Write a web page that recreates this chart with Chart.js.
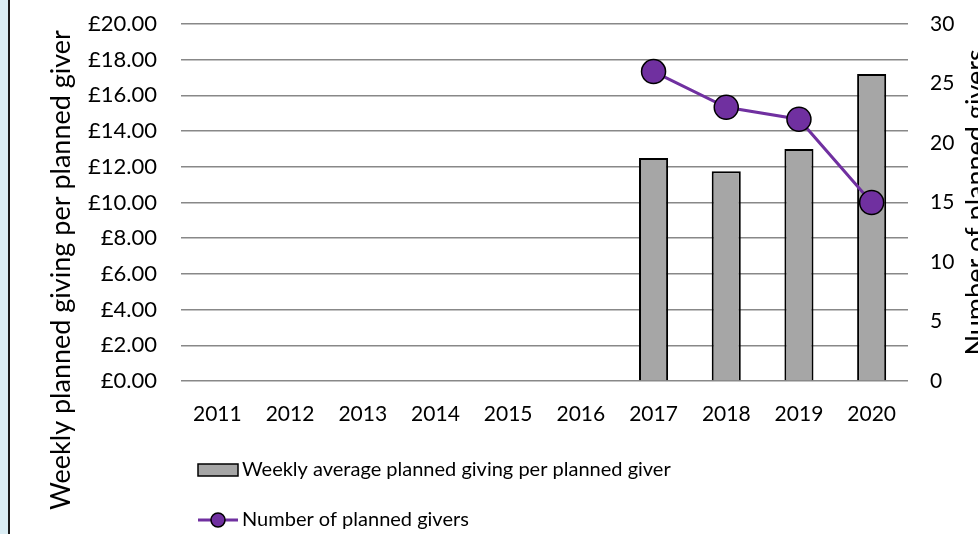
<!DOCTYPE html>
<html lang="en">
<head>
    <meta charset="UTF-8">
    <title>Planned giving</title>
    <script src="https://cdn.jsdelivr.net/npm/chart.js"></script>
    <style>
        html, body {
            margin: 0;
            padding: 0;
            overflow: hidden;
            background: #daedf4;
        }
        #wrap {
            position: absolute;
            left: 8px;
            top: 0;
            width: 970px;
            height: 534px;
            background: #fff;
            border-left: 2px solid #1a1a1a;
        }
    </style>
</head>
<body>
    <div id="wrap"><canvas id="chart" width="968" height="534"></canvas></div>

    <script>
        const years = ['2011', '2012', '2013', '2014', '2015', '2016', '2017', '2018', '2019', '2020'];
        const weeklyGiving = [null, null, null, null, null, null, 12.5, 11.75, 13.0, 17.2];
        const givers = [null, null, null, null, null, null, 26, 23, 22, 15];
        const leftTicks = [0, 2, 4, 6, 8, 10, 12, 14, 16, 18, 20];
        const rightTicks = [0, 5, 10, 15, 20, 25, 30];

        const FONT = 'Lato';
        const purple = '#7030a0';
        const barGrey = '#a6a6a6';

        // axis titles + legend drawn by hand (right title reads bottom-to-top)
        const extras = {
            id: 'extras',
            afterDraw(chart) {
                const ctx = chart.ctx;
                const area = chart.chartArea;
                ctx.save();
                ctx.fillStyle = '#000';
                ctx.font = '27px ' + FONT;
                ctx.textAlign = 'center';
                ctx.textBaseline = 'middle';

                ctx.save();
                ctx.translate(51, 270);
                ctx.rotate(-Math.PI / 2);
                ctx.fillText('Weekly planned giving per planned giver', 0, 0);
                ctx.restore();

                ctx.save();
                ctx.translate(chart.width + 7, (area.top + area.bottom) / 2);
                ctx.rotate(-Math.PI / 2);
                ctx.textBaseline = 'alphabetic';
                ctx.fillText('Number of planned givers', 0, 0);
                ctx.restore();

                // legend
                const ds = chart.data.datasets;
                const x0 = 188;
                ctx.font = '20px ' + FONT;
                ctx.textAlign = 'left';
                ctx.textBaseline = 'middle';

                let y = 470;
                ctx.fillStyle = ds[1].backgroundColor;
                ctx.strokeStyle = ds[1].borderColor;
                ctx.lineWidth = 1.5;
                ctx.fillRect(x0, y - 6, 40, 12);
                ctx.strokeRect(x0, y - 6, 40, 12);
                ctx.fillStyle = '#000';
                ctx.fillText(ds[1].label, x0 + 44, y);

                y = 520;
                ctx.strokeStyle = ds[0].borderColor;
                ctx.lineWidth = 3;
                ctx.beginPath();
                ctx.moveTo(x0, y);
                ctx.lineTo(x0 + 40, y);
                ctx.stroke();
                ctx.beginPath();
                ctx.arc(x0 + 20, y, 7, 0, Math.PI * 2);
                ctx.fillStyle = ds[0].pointBackgroundColor;
                ctx.fill();
                ctx.lineWidth = 1.5;
                ctx.strokeStyle = '#000';
                ctx.stroke();
                ctx.fillStyle = '#000';
                ctx.fillText(ds[0].label, x0 + 44, y);
                ctx.restore();
            }
        };

        new Chart(document.getElementById('chart'), {
            data: {
                labels: years,
                datasets: [
                    {
                        type: 'line',
                        label: 'Number of planned givers',
                        data: givers,
                        yAxisID: 'y1',
                        borderColor: purple,
                        borderWidth: 3,
                        pointRadius: 12,
                        pointBackgroundColor: purple,
                        pointBorderColor: '#000',
                        pointBorderWidth: 1.5,
                        order: 0
                    },
                    {
                        type: 'bar',
                        label: 'Weekly average planned giving per planned giver',
                        data: weeklyGiving,
                        yAxisID: 'y',
                        backgroundColor: barGrey,
                        borderColor: '#000',
                        borderWidth: 2,
                        categoryPercentage: 1,
                        barPercentage: 0.4,
                        order: 1
                    }
                ]
            },
            options: {
                responsive: false,
                animation: false,
                layout: { padding: { top: 24, left: 0, right: 0, bottom: 0 } },
                plugins: {
                    legend: { display: false },
                    tooltip: { enabled: false }
                },
                scales: {
                    x: {
                        grid: { display: false, drawTicks: false },
                        border: { display: false },
                        ticks: { color: '#000', font: { family: FONT, size: 21 }, padding: 21, maxRotation: 0 },
                        afterFit(s) { s.height = 153; }
                    },
                    y: {
                        position: 'left',
                        min: 0,
                        max: 20,
                        afterBuildTicks(s) { s.ticks = leftTicks.map(v => ({ value: v })); },
                        grid: { color: '#888', lineWidth: 1.5, drawTicks: false },
                        border: { display: false },
                        ticks: {
                            color: '#000',
                            font: { family: FONT, size: 22 },
                            padding: 24,
                            callback: v => '£' + v.toFixed(2)
                        },
                        afterFit(s) { s.width = 171; s.paddingTop = 0; s.paddingBottom = 0; }
                    },
                    y1: {
                        position: 'right',
                        min: 0,
                        max: 30,
                        afterBuildTicks(s) { s.ticks = rightTicks.map(v => ({ value: v })); },
                        grid: { display: false, drawTicks: false },
                        border: { display: false },
                        ticks: { color: '#000', font: { family: FONT, size: 21 }, padding: 22 },
                        afterFit(s) { s.width = 70; s.paddingTop = 0; s.paddingBottom = 0; }
                    }
                }
            },
            plugins: [extras]
        });
    </script>
</body>
</html>
